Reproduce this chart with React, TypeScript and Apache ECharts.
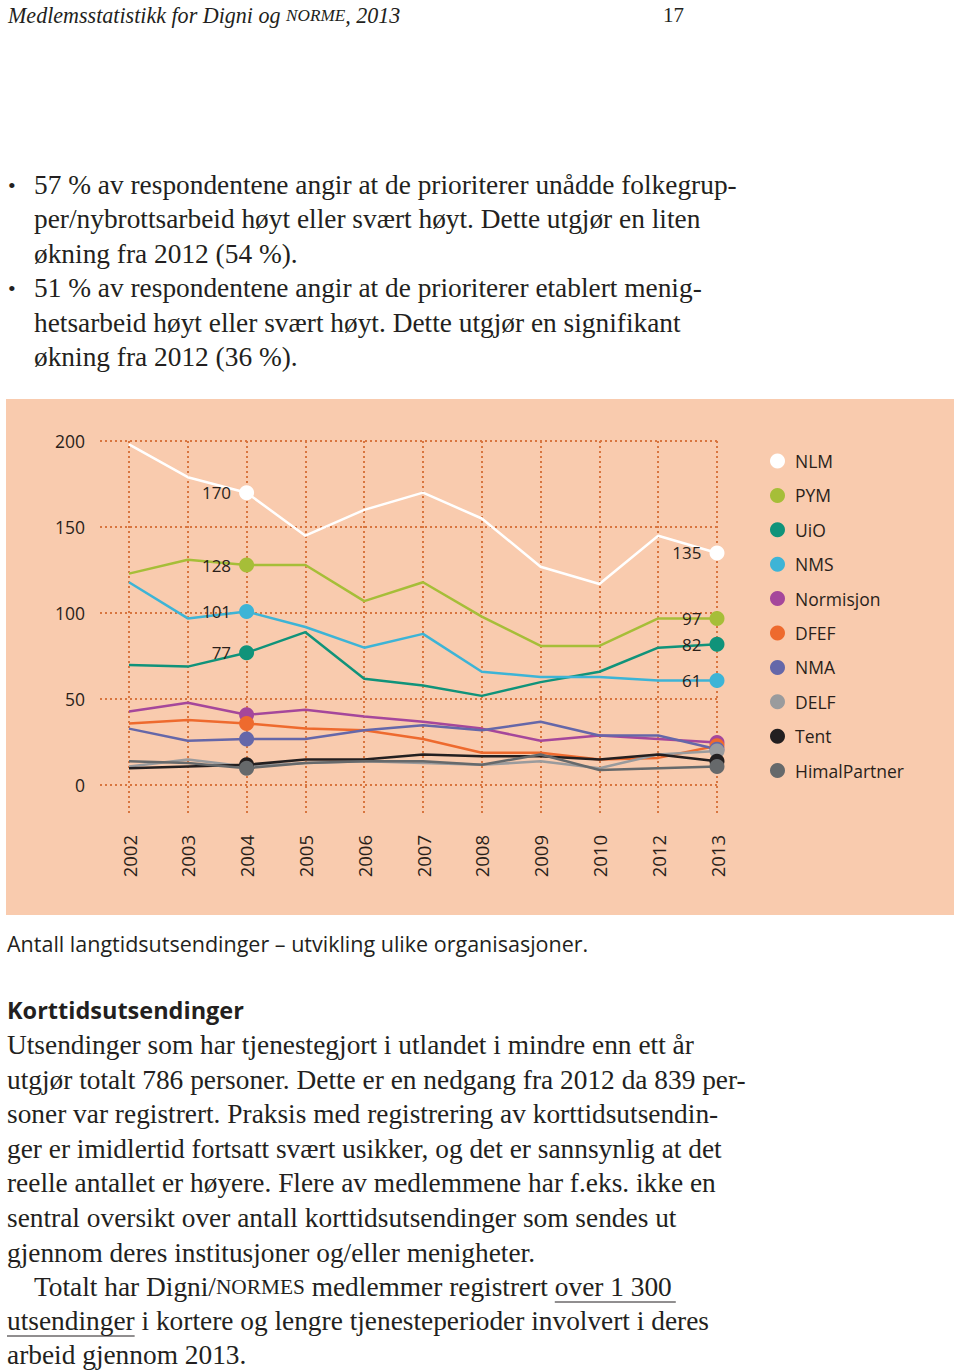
import React, { useEffect, useRef } from 'react';
import * as echarts from 'echarts';

// ---------- data ----------
const years = ['2002', '2003', '2004', '2005', '2006', '2007', '2008', '2009', '2010', '2012', '2013'];
const yTicks = [0, 50, 100, 150, 200];

const nlm = [198, 179, 170, 145, 160, 170, 155, 127, 117, 145, 135];
const pym = [123, 131, 128, 128, 107, 118, 98, 81, 81, 97, 97];
const uio = [70, 69, 77, 89, 62, 58, 52, 60, 66, 80, 82];
const nms = [118, 97, 101, 92, 80, 88, 66, 63, 63, 61, 61];
const normisjon = [43, 48, 41, 44, 40, 37, 33, 26, 29, 27, 25];
const dfef = [36, 38, 36, 33, 32, 27, 19, 19, 15, 16, 23];
const nma = [33, 26, 27, 27, 32, 35, 32, 37, 29, 29, 21];
const delf = [11, 15, 11, 13, 14, 13, 12, 14, 10, 18, 20];
const tent = [10, 11, 12, 15, 15, 18, 17, 17, 15, 18, 14];
const himal = [14, 13, 10, 13, 14, 14, 12, 18, 9, 10, 11];

const seriesNames = ['NLM', 'PYM', 'UiO', 'NMS', 'Normisjon', 'DFEF', 'NMA', 'DELF', 'Tent', 'HimalPartner'];
const seriesValues = [nlm, pym, uio, nms, normisjon, dfef, nma, delf, tent, himal];
const seriesColors = ['#FFFFFF', '#A6BE38', '#10937A', '#3DB4D6', '#A5479B', '#EE6A2E', '#6567A9', '#9A9B9D', '#231F20', '#66696B'];
const markedYears = ['2004', '2013'];
const labeledSeries = ['NLM', 'PYM', 'UiO', 'NMS'];

// ---------- page text ----------
const headerText = ['Medlemsstatistikk for Digni og ', 'NORME', ', 2013'];
const pageNumber = '17';
const bulletLines = [
  '57 % av respondentene angir at de prioriterer unådde folkegrup-',
  'per/nybrottsarbeid høyt eller svært høyt. Dette utgjør en liten',
  'økning fra 2012 (54 %).',
  '51 % av respondentene angir at de prioriterer etablert menig-',
  'hetsarbeid høyt eller svært høyt. Dette utgjør en signifikant',
  'økning fra 2012 (36 %).',
];
const bulletStarts = [0, 3];
const caption = 'Antall langtidsutsendinger – utvikling ulike organisasjoner.';
const heading = 'Korttidsutsendinger';
const paraLines = [
  'Utsendinger som har tjenestegjort i utlandet i mindre enn ett år',
  'utgjør totalt 786 personer. Dette er en nedgang fra 2012 da 839 per-',
  'soner var registrert. Praksis med registrering av korttidsutsendin-',
  'ger er imidlertid fortsatt svært usikker, og det er sannsynlig at det',
  'reelle antallet er høyere. Flere av medlemmene har f.eks. ikke en',
  'sentral oversikt over antall korttidsutsendinger som sendes ut',
  'gjennom deres institusjoner og/eller menigheter.',
];
const totalLine = ['Totalt har Digni/', 'NORMES', ' medlemmer registrert ', 'over 1 300'];
const lastLines = [['utsendinger', ' i kortere og lengre tjenesteperioder involvert i deres'], ['arbeid gjennom 2013.']];

const SERIF = '"Liberation Serif", serif';
const SANS = '"Open Sans", sans-serif';
const INK = '#231F20';
const GRID = '#D8753F';

function measure(text: string, font: string): number {
  const c = document.createElement('canvas').getContext('2d');
  if (!c) return text.length * 10;
  c.font = font;
  return c.measureText(text).width;
}

export default function App() {
  const ref = useRef<HTMLDivElement>(null);

  useEffect(() => {
    document.body.style.margin = '0';
    if (!ref.current) return;
    const chart = echarts.init(ref.current, undefined, { renderer: 'svg' });

    // fit serif size so that a reference line has the reference width
    const fs = Math.min(28, Math.max(20, 25 * 687 / measure(paraLines[0], `25px ${SERIF}`)));
    const scFs = fs * 0.78;
    const hfs = 22 * 392 / (measure(headerText[0] + headerText[2], `italic 22px ${SERIF}`) + measure(headerText[1], `italic 17px ${SERIF}`));

    const graphics: any[] = [];
    // peach panel
    graphics.push({ type: 'rect', z: -100, shape: { x: 6, y: 399, width: 948, height: 516 }, style: { fill: '#F9CBAE' }, silent: true });
    // header
    graphics.push({
      type: 'text', x: 8, y: 15,
      style: {
        text: `{i|${headerText[0]}}{s|${headerText[1]}}{i|${headerText[2]}}`,
        verticalAlign: 'middle',
        rich: {
          i: { fontSize: hfs, fontStyle: 'italic', fontFamily: SERIF, fill: INK },
          s: { fontSize: hfs * 0.78, fontStyle: 'italic', fontFamily: SERIF, fill: INK },
        },
      },
    });
    graphics.push({ type: 'text', x: 663, y: 15, style: { text: pageNumber, fontSize: 21, fontFamily: SERIF, fill: INK, verticalAlign: 'middle' } });

    // bullets
    bulletLines.forEach((t, i) => {
      const y = 185 + i * 34.4;
      if (bulletStarts.includes(i)) {
        graphics.push({ type: 'text', x: 8, y, style: { text: '•', fontSize: fs * 0.8, fontFamily: SERIF, fill: INK, verticalAlign: 'middle' } });
      }
      graphics.push({ type: 'text', x: 34, y, style: { text: t, fontSize: fs, fontFamily: SERIF, fill: INK, verticalAlign: 'middle' } });
    });

    // caption & heading
    graphics.push({ type: 'text', x: 7, y: 943, style: { text: caption, fontSize: 21.5, fontFamily: SANS, fill: INK, verticalAlign: 'middle' } });
    graphics.push({ type: 'text', x: 7, y: 1010, style: { text: heading, fontSize: 23.5, fontWeight: 'bold', fontFamily: SANS, fill: INK, verticalAlign: 'middle' } });

    paraLines.forEach((t, i) => {
      graphics.push({ type: 'text', x: 7, y: 1045 + i * 34.6, style: { text: t, fontSize: fs, fontFamily: SERIF, fill: INK, verticalAlign: 'middle' } });
    });
    // total line with small caps and underline
    const ty = 1287;
    graphics.push({
      type: 'text', x: 34, y: ty,
      style: {
        text: `{r|${totalLine[0]}}{s|${totalLine[1]}}{r|${totalLine[2]}${totalLine[3]}}`,
        verticalAlign: 'middle',
        rich: {
          r: { fontSize: fs, fontFamily: SERIF, fill: INK },
          s: { fontSize: scFs, fontFamily: SERIF, fill: INK },
        },
      },
    });
    const u1Start = 34 + measure(totalLine[0], `${fs}px ${SERIF}`) + measure(totalLine[1], `${scFs}px ${SERIF}`) + measure(totalLine[2], `${fs}px ${SERIF}`);
    const u1End = u1Start + measure(totalLine[3], `${fs}px ${SERIF}`);
    graphics.push({ type: 'line', shape: { x1: u1Start, y1: ty + 15, x2: u1End + 4, y2: ty + 15 }, style: { stroke: INK, lineWidth: 1 } });

    lastLines.forEach((parts, i) => {
      const y = 1321 + i * 34.4;
      graphics.push({ type: 'text', x: 7, y, style: { text: parts.join(''), fontSize: fs, fontFamily: SERIF, fill: INK, verticalAlign: 'middle' } });
      if (i === 0) {
        const w = measure(parts[0], `${fs}px ${SERIF}`);
        graphics.push({ type: 'line', shape: { x1: 7, y1: y + 15, x2: 7 + w, y2: y + 15 }, style: { stroke: INK, lineWidth: 1 } });
      }
    });

    const series = seriesNames.map((name, i) => ({
      name,
      type: 'line',
      xAxisIndex: 0,
      yAxisIndex: 0,
      data: seriesValues[i],
      symbol: 'circle',
      symbolSize: (_v: any, p: any) => (markedYears.includes(years[p.dataIndex]) ? 15 : 0),
      showSymbol: true,
      showAllSymbol: true,
      lineStyle: { color: seriesColors[i], width: 2.5 },
      itemStyle: { color: seriesColors[i], borderWidth: 0 },
      label: {
        show: labeledSeries.includes(name),
        position: 'left',
        distance: 8,
        fontSize: 17,
        fontFamily: SANS,
        color: '#2A1F1A',
        formatter: (p: any) => (markedYears.includes(years[p.dataIndex]) ? String(p.value) : ''),
      },
      emphasis: { disabled: true },
      silent: true,
      z: 3,
    }));

    chart.setOption({
      animation: false,
      backgroundColor: '#FFFFFF',
      textStyle: { fontFamily: SANS },
      graphic: graphics,
      grid: [
        { left: 129, right: 243, top: 441, bottom: 1371 - 813 },
        { left: 100, right: 243, top: 441, bottom: 1371 - 785 },
      ],
      xAxis: [
        {
          type: 'category', gridIndex: 0, data: years, boundaryGap: false,
          axisLine: { show: false }, axisTick: { show: false },
          axisLabel: { interval: 0, rotate: 90, margin: 22, fontSize: 18.5, color: '#2A1F1A', fontFamily: SANS },
          splitLine: { show: true, interval: 0, lineStyle: { color: GRID, width: 2, type: [2, 3] } },
        },
        { type: 'value', gridIndex: 1, min: 0, max: 1, show: false },
      ],
      yAxis: [
        { type: 'value', gridIndex: 0, min: -16, max: 200, show: false, splitLine: { show: false } },
        {
          type: 'value', gridIndex: 1, min: yTicks[0], max: yTicks[yTicks.length - 1], interval: yTicks[1] - yTicks[0],
          axisLine: { show: false }, axisTick: { show: false },
          axisLabel: { margin: 15, fontSize: 17.5, color: '#2A1F1A', fontFamily: SANS },
          splitLine: { show: true, lineStyle: { color: GRID, width: 2, type: [2, 3] } },
        },
      ],
      legend: {
        orient: 'vertical', left: 770, top: 452,
        icon: 'circle', itemWidth: 15, itemHeight: 15, itemGap: 16.4,
        padding: 0,
        data: seriesNames,
        textStyle: { fontSize: 17.5, color: '#2A1F1A', fontFamily: SANS, lineHeight: 15, padding: [0, 0, 0, 5] },
        selectedMode: false,
      },
      series,
    });

    return () => chart.dispose();
  }, []);

  return <div ref={ref} style={{ width: 960, height: 1371 }} />;
}
